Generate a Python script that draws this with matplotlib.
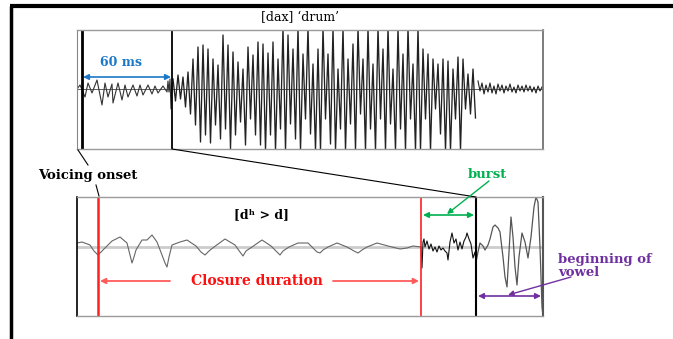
import numpy as np
import matplotlib
matplotlib.use("Agg")
import matplotlib.pyplot as plt

# upper panel: waveform of [dax] 'drum' (x in px from panel left, amplitude in px)
pre_x = [0, 3, 8, 11, 15, 20, 25, 28, 31, 35, 36, 41, 45, 48, 51, 56, 60, 63, 66, 71, 75, 78, 81, 86, 90,
         91, 92, 93, 94, 95]
pre_amp = [0, 4, -8, 6, -4, 9, -16, 6, -8, 5, -14, 6, -11, 4, -8, 4, -7, 4, -6, 4, -5, 3, -4, 3, -3,
           8, -3, 10, -20, 6]

vowel_x0, vowel_dx = 96, 2.5
vowel_amp = [10, -12, 14, -10, 12, -18, 17, -25, 30, -36, 42, -53, 44, -46, 40, -54, 30, -36, 24, -50,
             54, -40, 44, -60, 37, -46, 27, -33, 20, -56, 42, -30, 34, -46, 47, -56, 45, -62, 36, -46,
             47, -62, 30, -40, 62, -62, 54, -35, 40, -50, 62, -62, 35, -30, 62, -45, 25, -62, 40, -62,
             62, -30, 35, -55, 62, -62, 20, -40, 62, -62, 30, -35, 45, -62, 62, -25, 30, -62, 62, -40,
             25, -62, 62, -30, 40, -62, 62, -35, 20, -62, 62, -40, 35, -62, 62, -30, 25, -62, 62, -62,
             40, -30, 35, -62, 30, -20, 25, -45, 30, -62, 28, -62, 20, -30, 32, -62, 30, -20, 15, -25,
             20, -29]

tail_x0, tail_dx = 401, 2
tail_amp = [8, -2, 6, -5, 4, -3, 6, -4, 3, -5, 5, -2, 4, -4, 3, -2, 5, -3, 2, -4, 4, -2, 3, -3,
            4, -2, 3, -3, 2, -4, 3, -2, 2]

# lower panel: zoomed [dh > d] closure, burst and vowel onset
closure_x = [0, 5, 13, 17, 21, 25, 28, 35, 43, 50, 53, 55, 57, 59, 65, 70, 75, 80, 85, 88, 90, 92, 95,
             103, 110, 119, 124, 128, 132, 137, 148, 158, 163, 166, 169, 175, 185, 194, 200, 203, 206,
             212, 221, 231, 237, 240, 243, 246, 251, 260, 270, 277, 281, 285, 290, 300, 311, 323, 330,
             336, 344]
closure_amp = [4, 5, 2, -4, -8, -4, -1, 6, 10, 4, -8, -16, -10, -3, 7, 7, 12, 5, -8, -16, -20, -10,
               2, 5, 7, 1, -5, -8, -4, 0, 8, 2, -5, -9, -4, 0, 7, 1, -5, -8, -4, 0, 4, 4, -2, -5, -6,
               -3, 0, 4, 0, -4, -6, -3, 0, 4, 1, -2, -1, 1, 0]
burst_x = [344, 345, 346, 347, 348, 350, 352, 354, 356, 358, 360, 362, 364, 366, 368, 370, 371, 373,
           375, 377, 379, 381, 383, 385, 387, 389, 390, 392, 394, 396, 398, 399]
burst_amp = [0, -21, 5, 8, 0, 6, -2, 3, -4, 0, -5, 1, -3, -1, -4, -6, -13, 5, 14, 4, 8, -3, 5, -2, 6,
             10, 14, 8, 3, -11, -5, -15]
onset_x = [399, 401, 403, 406, 408, 411, 413, 416, 418, 421, 423, 426, 428, 430, 432, 434, 436, 438,
           440, 442, 445, 448, 451, 454, 457, 459, 461, 463, 465, 466]
onset_amp = [-15, -5, 4, 1, -3, 2, 8, 20, 22, 19, 15, -10, -30, -40, -5, 30, 10, -20, -38, -10, 14,
             5, -11, 10, 40, 50, 45, 0, -60, -69]

W, H = 673, 339
fig = plt.figure(figsize=(W / 100, H / 100), dpi=100)

serif = ['DejaVu Serif']

def panel(top_px, ylo, yhi):
    ax = fig.add_axes([77 / W, (H - top_px - 119) / H, 466 / W, 119 / H])
    ax.set_xlim(0, 466)
    ax.set_ylim(ylo, yhi)
    ax.set_xticks([])
    ax.set_yticks([])
    for s in ['top', 'bottom']:
        ax.spines[s].set_color('#9a9a9a')
        ax.spines[s].set_linewidth(1.0)
    return ax

# upper panel
ax_up = panel(30, -60, 59)
ax_up.spines['left'].set_color('#888888')
ax_up.spines['left'].set_linewidth(0.8)
ax_up.spines['right'].set_color('#666666')
ax_up.spines['right'].set_linewidth(1.2)
ax_up.axhline(0, color='#444444', lw=0.6)
ax_up.plot(pre_x, pre_amp, color='#333333', lw=0.8)
vx = vowel_x0 + vowel_dx * np.arange(len(vowel_amp))
ax_up.plot(vx, vowel_amp, color='#222222', lw=0.95)
tx = tail_x0 + tail_dx * np.arange(len(tail_amp))
ax_up.plot(tx, tail_amp, color='#222222', lw=0.8)
ax_up.axvline(5, color='black', lw=2.0)
ax_up.axvline(95, color='black', lw=1.3)

# lower panel
ax_lo = panel(197, -69, 50)
ax_lo.spines['left'].set_color('black')
ax_lo.spines['left'].set_linewidth(1.2)
ax_lo.spines['right'].set_color('#555555')
ax_lo.spines['right'].set_linewidth(1.5)
ax_lo.axhline(0, color='#cccccc', lw=2.0)
ax_lo.plot(closure_x, closure_amp, color='#666666', lw=0.8)
ax_lo.plot(burst_x, burst_amp, color='#111111', lw=0.8)
ax_lo.plot(onset_x, onset_amp, color='#555555', lw=0.9)
ax_lo.axvline(21, color='#ff2020', lw=1.8)
ax_lo.axvline(344, color='#ff2020', lw=1.2)
ax_lo.axvline(399, color='black', lw=1.5)

# overlay for labels and arrows, in pixel coordinates
ov = fig.add_axes([0, 0, 1, 1], zorder=5)
ov.set_xlim(0, W)
ov.set_ylim(H, 0)
ov.axis('off')
ov.patch.set_alpha(0)

ov.plot([10, W], [6, 6], color='black', lw=3, solid_capstyle='butt')
ov.plot([11, 11], [6, H], color='black', lw=2.5, solid_capstyle='butt')

ov.text(300, 18, "[dax] \u2018drum\u2019", ha='center', va='center', fontsize=9, family=serif)

def darrow(x0, x1, y, color, lw=1.2):
    ov.annotate('', xy=(x0, y), xytext=(x1, y),
                arrowprops=dict(arrowstyle='<|-|>', color=color, lw=lw, mutation_scale=8,
                                shrinkA=0, shrinkB=0))

def arrow(x0, y0, x1, y1, color, lw=1.0):
    ov.annotate('', xy=(x1, y1), xytext=(x0, y0),
                arrowprops=dict(arrowstyle='-|>', color=color, lw=lw, mutation_scale=8,
                                shrinkA=0, shrinkB=0))

blue = '#1b78c8'
ov.text(121, 62, "60 ms", ha='center', va='center', fontsize=9, fontweight='bold', color=blue, family=serif)
darrow(83, 171, 77, blue)

# zoom connector and voicing onset
ov.plot([172, 476], [149, 197], color='black', lw=0.8)
ov.plot([78, 88], [150, 165], color='black', lw=0.8)
ov.plot([96, 99], [185, 196], color='black', lw=0.8)
ov.text(88, 175, "Voicing onset", ha='center', va='center', fontsize=9.5, fontweight='bold', family=serif)

ov.text(262, 215, "[d\u02b0 > d]", ha='center', va='center', fontsize=9, fontweight='bold', family=serif)

red = '#ff1010'
ov.text(257, 281, "Closure duration", ha='center', va='center', fontsize=10, fontweight='bold',
        color=red, family=serif)
arrow(170, 281, 100, 281, '#ff5a5a', lw=1.3)
arrow(333, 281, 419, 281, '#ff5a5a', lw=1.3)

green = '#00b050'
ov.text(487, 175, "burst", ha='center', va='center', fontsize=9.5, fontweight='bold', color=green, family=serif)
darrow(423, 474, 215, green)
arrow(489, 181, 447, 214, green)

purple = '#7030a0'
ov.text(558, 266, "beginning of\nvowel", ha='left', va='center', fontsize=9.5, fontweight='bold',
        color=purple, family=serif, linespacing=0.9)
darrow(478, 541, 296, purple)
arrow(571, 277, 508, 295, purple)

fig.savefig("out.png", dpi=100)
